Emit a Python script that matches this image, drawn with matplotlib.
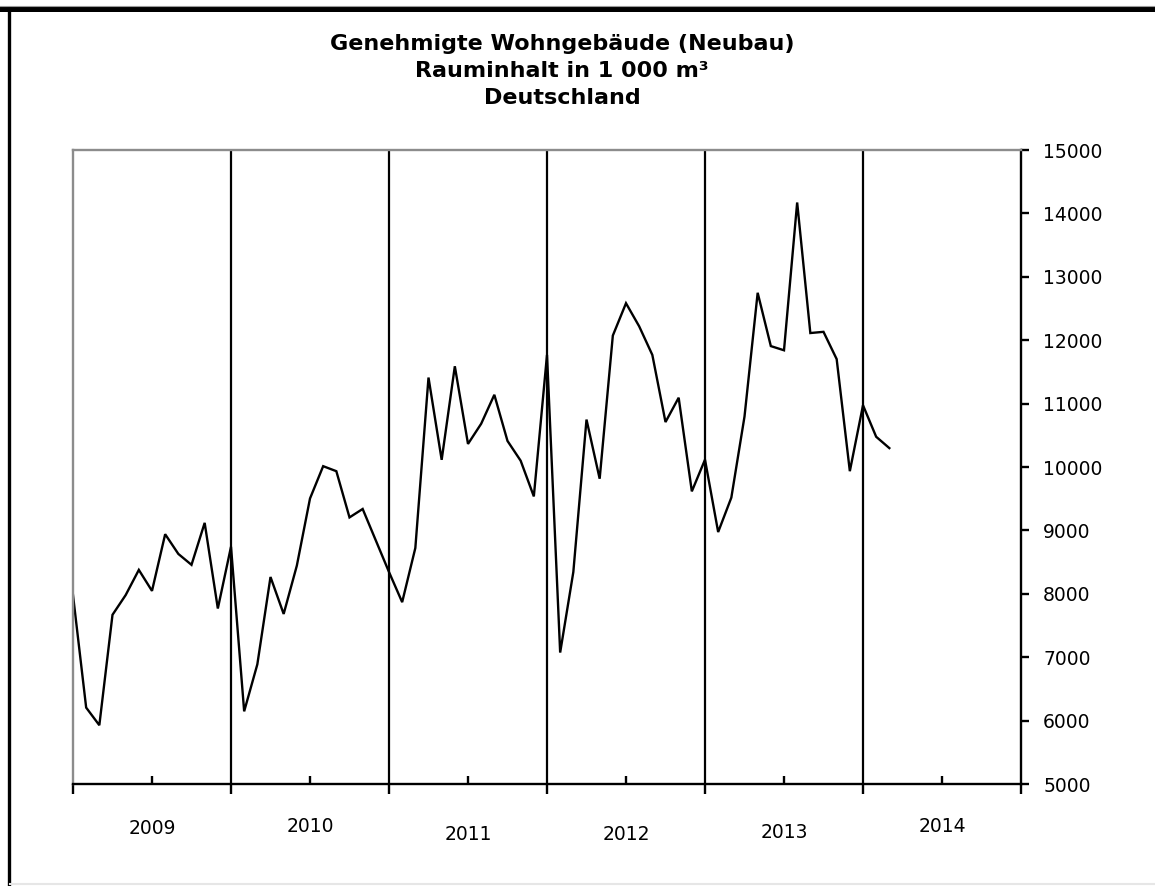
import matplotlib
matplotlib.use("Agg")
import matplotlib.pyplot as plt
from matplotlib.lines import Line2D
from matplotlib.ticker import FixedLocator, NullFormatter

# ---- data ----
years = ["2009", "2010", "2011", "2012", "2013", "2014"]
values = [
    7980, 6205, 5927, 7669, 7980, 8377, 8046, 8940, 8629, 8457, 9119, 7768,   # 2009
    8742, 6146, 6887, 8265, 7682, 8444, 9503, 10013, 9934, 9205, 9338, 8841,  # 2010
    8344, 7868, 8722, 11411, 10113, 11589, 10364, 10682, 11139, 10411, 10099, 9536,  # 2011
    11768, 7073, 8344, 10748, 9815, 12073, 12583, 12219, 11768, 10709, 11093, 9616,  # 2012
    10116, 8974, 9517, 10795, 12748, 11907, 11841, 14172, 12113, 12132, 11702, 9934,  # 2013
    10974, 10477, 10298,  # 2014
]
yticks = list(range(5000, 15001, 1000))
title_lines = ["Genehmigte Wohngebäude (Neubau)", "Rauminhalt in 1 000 m³", "Deutschland"]

# ---- figure ----
W, H = 1155, 886
fig = plt.figure(figsize=(W / 100, H / 100), dpi=100)
plt.rcParams["font.family"] = ["DejaVu Sans"]

L, R, T, B = 73, 1021, 150, 784
ax = fig.add_axes([L / W, 1 - B / H, (R - L) / W, (B - T) / H])

months = list(range(len(values)))
ax.plot(months, values, color="black", lw=1.7, solid_joinstyle="miter")

ax.set_xlim(0, 12 * len(years))
ax.set_ylim(yticks[0], yticks[-1])

# year separators
for k in range(1, len(years)):
    ax.axvline(12 * k, color="black", lw=1.6)

# spines
ax.spines["top"].set_color("#8c8c8c")
ax.spines["left"].set_color("#8c8c8c")
for s in ["top", "left", "right", "bottom"]:
    ax.spines[s].set_linewidth(1.7)

# y axis on right
ax.yaxis.tick_right()
ax.yaxis.set_label_position("right")
ax.set_yticks(yticks)
ax.set_yticklabels([str(v) for v in yticks])
ax.tick_params(axis="y", which="major", direction="out", length=6, width=1.7,
               labelsize=13.5, pad=10, left=False, right=True)

# x axis ticks
ax.xaxis.set_major_locator(FixedLocator([12 * k for k in range(len(years) + 1)]))
ax.xaxis.set_minor_locator(FixedLocator([12 * k + 6 for k in range(len(years))]))
ax.xaxis.set_major_formatter(NullFormatter())
ax.tick_params(axis="x", which="major", direction="out", length=7, width=1.7)
ax.tick_params(axis="x", which="minor", direction="in", length=6, width=1.7)

# year labels (slightly staggered as in reference)
year_label_y = [829, 827, 835, 835, 832, 826]
for k, (yr, py) in enumerate(zip(years, year_label_y)):
    xd = 12 * k + 6
    xf = ax.transData.transform((xd, 0))[0] / W
    fig.text(xf, 1 - py / H, yr, ha="center", va="center", fontsize=13.5)

# title
for i, line in enumerate(title_lines):
    fig.text(562 / W, 1 - (44 + 27 * i) / H, line, ha="center", va="center",
             fontsize=16, fontweight="bold")

# outer frame
fig.add_artist(Line2D([0, 1], [1 - 8.5 / H] * 2, transform=fig.transFigure,
                      color="black", lw=3.6))
fig.add_artist(Line2D([0, 1], [1 - 5.5 / H] * 2, transform=fig.transFigure,
                      color="#9a9a9a", lw=0.8))
fig.add_artist(Line2D([8.5 / W] * 2, [0, 1 - 8.5 / H], transform=fig.transFigure,
                      color="black", lw=2.4))
fig.add_artist(Line2D([10 / W, 1], [1 - 884 / H] * 2, transform=fig.transFigure,
                      color="#e6e6e6", lw=1.5))

fig.savefig("out.png", dpi=100)
